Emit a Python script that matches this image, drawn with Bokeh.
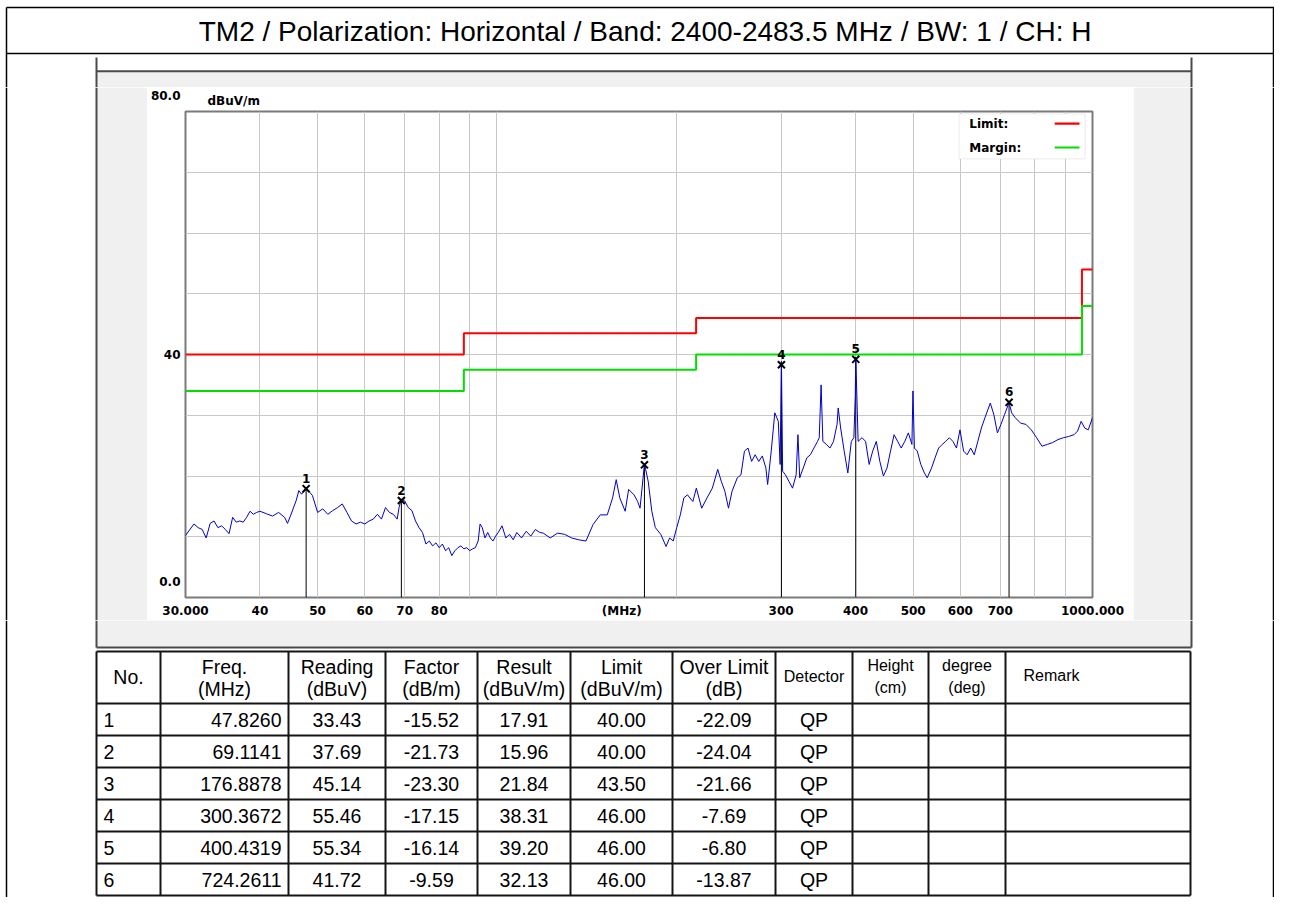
from bokeh.plotting import figure
from bokeh.models import Range1d, FixedTicker, Label, LabelSet, BoxAnnotation, ColumnDataSource
from bokeh.layouts import column, row
from bokeh.embed import file_html
from bokeh.resources import INLINE
from bokeh.core.properties import value

# ---------------- data ----------------
TITLE = "TM2 / Polarization: Horizontal / Band: 2400-2483.5 MHz  / BW: 1 / CH: H"

trace_freq = [30, 31, 31.5, 32, 32.5, 33, 33.5, 34, 34.5, 35,
              35.5, 36, 36.5, 37, 37.5, 38, 38.5, 39, 39.5, 40,
              41, 42, 43, 44, 44.5, 45, 46, 46.5, 47, 47.8,
              48.5, 49, 49.5, 50, 51, 52, 53, 54, 55, 56,
              57, 58, 59, 60, 61, 62, 63, 64, 65, 66,
              67, 68, 68.5, 69.1, 70, 71, 72, 73, 74, 75,
              76, 77, 78, 79, 80, 81, 82, 83, 84, 85,
              86, 87, 88, 89, 90, 91, 92, 93, 93.7, 94.5,
              95.5, 96.5, 97.5, 98.5, 99.5, 100.5, 102, 103.5, 105, 106.5,
              108, 110, 112, 114, 116, 118,
              119.6, 122.9, 126.4, 129.9, 133.5, 137.2, 141.1, 145.0, 149.1, 153.2,
              156.4, 158.6, 160.8, 164.2, 166.4, 169.9, 172.3, 173.9, 176.9, 179.5,
              182.0, 184.5, 188.4, 192.3, 195.0, 197.7, 200.4, 203.2, 206.0, 208.9,
              213.3, 216.2, 220.7, 225.3, 230.0, 234.8, 238.1, 241.4, 244.8, 248.2,
              253.3, 256.9, 260.4, 264.0, 267.7, 271.4, 275.2, 279.0, 282.9, 284.8,
              288.8, 292.8, 296.8, 298.9, 300.4, 301.8, 305.1, 309.3, 313.6, 318.0,
              320.2, 322.4, 326.8, 331.4, 336.0, 340.6, 345.4, 347.7, 350.2, 352.6,
              357.5, 362.4, 367.4, 372.5, 374.1, 377.7, 382.9, 388.3, 393.6, 397.5,
              399.6, 400.4, 404.1, 410.2, 415.9, 421.7, 427.5, 433.5, 439.5, 445.6,
              451.8, 458.0, 464.4, 470.8, 477.3, 484.0, 490.7, 497.5, 499.5, 502.3,
              507.9, 514.9, 522.1, 527.8, 536.6, 544.1, 551.6, 559.3, 567.0, 574.9,
              582.9, 591.0, 599.1, 607.5, 615.9, 624.4, 633.1, 641.9, 650.8, 659.8,
              673.6, 682.9, 692.4, 702.0, 711.7, 724.3, 731.6, 741.7, 757.2, 773.0,
              789.2, 805.7, 822.5, 839.7, 857.2, 875.1, 893.4, 912.0, 931.1, 944.0,
              957.1, 970.3, 983.8, 1000.0]
trace_level = [10.2, 12.1, 11.5, 11.2, 9.8, 12.2, 12.6, 11.5, 11.8, 11.2,
               10.5, 13.2, 12.4, 12.6, 12.4, 13.2, 14.2, 13.7, 14.0, 14.2,
               13.8, 13.4, 14.0, 13.2, 12.2, 13.4, 15.9, 17.6, 17.0, 18.1,
               17.3, 16.8, 15.4, 14.0, 14.6, 13.7, 14.3, 14.8, 15.4, 14.0,
               12.6, 12.1, 12.4, 12.1, 12.6, 12.9, 13.7, 12.9, 14.8, 14.0,
               13.7, 12.9, 14.8, 16.2, 15.9, 14.8, 14.3, 12.6, 11.5, 10.7,
               8.8, 9.3, 8.5, 9.0, 8.2, 8.8, 7.7, 8.2, 6.9, 7.7,
               8.2, 8.5, 8.0, 8.2, 7.7, 8.0, 8.2, 9.3, 12.1, 11.5,
               9.8, 10.7, 9.8, 9.3, 10.1, 10.7, 11.8, 9.8, 10.4, 9.5,
               10.7, 9.8, 10.9, 10.1, 11.2, 10.7,
               10.6, 9.8, 10.6, 10.4, 9.8, 9.5, 9.3, 12.0, 13.6, 13.6,
               16.4, 19.4, 16.4, 14.2, 17.8, 16.9, 15.8, 14.7, 22.0, 19.1,
               14.2, 11.5, 10.4, 8.4, 9.8, 9.3, 11.5, 13.6, 16.4, 16.9,
               15.8, 18.0, 14.7, 16.4, 18.0, 21.1, 19.1, 17.5, 14.7, 17.5,
               19.7, 20.2, 24.1, 24.6, 22.4, 23.5, 22.4, 23.3, 21.3, 18.6,
               24.1, 30.4, 29.0, 21.9, 38.9, 20.8, 20.2, 19.1, 18.0, 20.2,
               26.8, 19.7, 21.3, 23.0, 23.5, 24.6, 25.7, 26.3, 35.0, 25.7,
               25.2, 24.6, 25.7, 28.5, 31.2, 27.9, 24.1, 20.5, 25.7, 26.3,
               33.1, 39.6, 25.7, 26.3, 25.7, 21.9, 24.1, 25.7, 22.4, 20.0,
               21.3, 24.1, 26.8, 25.7, 24.6, 25.7, 27.1, 25.2, 34.0, 24.6,
               24.1, 21.9, 20.5, 19.7, 21.3, 23.0, 24.6, 25.2, 25.7, 26.3,
               25.7, 24.6, 27.6, 24.1, 23.5, 24.6, 23.5, 25.7, 27.9, 29.6,
               32.0, 30.1, 27.1, 28.5, 30.1, 32.1, 30.4, 29.6, 28.7, 28.5,
               27.6, 26.3, 24.9, 25.2, 25.5, 26.0, 26.3, 26.5, 26.8, 27.4,
               29.0, 27.9, 27.6, 29.6]

limit_freq = [30, 88, 216, 960, 1000]
limit_level = [40, 43.5, 46, 54, 54]
margin_level = [34, 37.5, 40, 48, 48]

mk_no = ["1", "2", "3", "4", "5", "6"]
mk_freq = [47.8260, 69.1141, 176.8878, 300.3672, 400.4319, 724.2611]
mk_reading = [33.43, 37.69, 45.14, 55.46, 55.34, 41.72]
mk_factor = [-15.52, -21.73, -23.30, -17.15, -16.14, -9.59]
mk_result = [17.91, 15.96, 21.84, 38.31, 39.20, 32.13]
mk_limit = [40.00, 40.00, 43.50, 46.00, 46.00, 46.00]
mk_over = [-22.09, -24.04, -21.66, -7.69, -6.80, -13.87]
mk_detector = ["QP", "QP", "QP", "QP", "QP", "QP"]

# x tick labels (162 MHz carries the unit caption, as in the original)
x_ticks = [30, 40, 50, 60, 70, 80, 162, 300, 400, 500, 600, 700, 1000]
x_tick_labels = ["30.000", "40", "50", "60", "70", "80", "(MHz)", "300", "400", "500",
                 "600", "700", "1000.000"]
x_grid = [40, 50, 60, 70, 80, 90, 100, 200, 300, 400, 500, 600, 700, 800, 900]
y_grid = [10, 20, 30, 40, 50, 60, 70]
y_ticks = [0, 40, 80]
y_tick_labels = ["0.0", "40", "80.0"]
y_unit = "dBuV/m"

headers = [["No."], ["Freq.", "(MHz)"], ["Reading", "(dBuV)"], ["Factor", "(dB/m)"],
           ["Result", "(dBuV/m)"], ["Limit", "(dBuV/m)"], ["Over Limit", "(dB)"],
           ["Detector"], ["Height", "(cm)"], ["degree", "(deg)"], ["Remark"]]

# ---------------- styles / layout ----------------
PANEL = "#f0f0f0"
PANEL_LINE = "#4a4a4a"
TABLE_LINE = "#151515"
SANS = "Liberation Sans"
BOLD = "DejaVu Sans"
W = 1274


def deco(x0, x1, y0, y1):
    p = figure(width=int(round(x1 - x0)), height=int(round(y1 - y0)),
               x_range=Range1d(x0, x1), y_range=Range1d(y1, y0),
               x_axis_location=None, y_axis_location=None,
               toolbar_location=None, output_backend="svg",
               min_border=0, outline_line_color=None, frame_align=False,
               background_fill_color="white", border_fill_color="white")
    p.grid.visible = False
    return p


OUT_L, OUT_R = 6, 1273

# header strip (y 0..87)
H = deco(0, W, 0, 87)
H.quad(left=96, right=1191, top=71.5, bottom=87, fill_color=PANEL, line_color=None)
H.segment(x0=[OUT_L, OUT_L], y0=[7, 53], x1=[W, W], y1=[7, 53], line_color="black", line_width=1.5)
H.segment(x0=[OUT_L, OUT_R], y0=[7, 7], x1=[OUT_L, OUT_R], y1=[87, 87], line_color="black", line_width=1.5)
H.segment(x0=[96, 1191, 96], y0=[57, 57, 70.7], x1=[96, 1191, 1191], y1=[87, 87, 70.7],
          line_color=PANEL_LINE, line_width=2)
H.text(x=[648.5], y=[31], text=[TITLE], text_font=value(SANS), text_font_size="28px",
       text_align="center", text_baseline="middle", text_color="black")

# side pieces of the grey panel (y 87..620)
L = deco(0, 147, 87, 620)
L.quad(left=96, right=147, top=87, bottom=620, fill_color=PANEL, line_color=None)
L.segment(x0=[96], y0=[87], x1=[96], y1=[620], line_color=PANEL_LINE, line_width=2)
L.segment(x0=[OUT_L], y0=[87], x1=[OUT_L], y1=[620], line_color="black", line_width=1.5)

R = deco(1133, W, 87, 620)
R.quad(left=1133, right=1191, top=87, bottom=620, fill_color=PANEL, line_color=None)
R.segment(x0=[1191], y0=[87], x1=[1191], y1=[620], line_color=PANEL_LINE, line_width=2)
R.segment(x0=[OUT_R], y0=[87], x1=[OUT_R], y1=[620], line_color="black", line_width=1.5)

# ---------------- chart ----------------
C = figure(width=986, height=533, x_axis_type="log",
           x_range=Range1d(30, 1000), y_range=Range1d(0, 80),
           toolbar_location=None, output_backend="svg", frame_align=False,
           min_border_left=36, min_border_right=41, min_border_top=24, min_border_bottom=23,
           background_fill_color="white", border_fill_color="white",
           outline_line_color="#7a7a7a", outline_line_width=2)

C.title.text = y_unit
C.title.align = "left"
C.title.offset = 22
C.title.standoff = 8
C.title.text_font = BOLD
C.title.text_font_style = "bold"
C.title.text_font_size = "12px"
C.title.text_color = "black"

C.xaxis.ticker = FixedTicker(ticks=x_ticks)
C.xaxis.major_label_overrides = dict(zip(x_ticks, x_tick_labels))
C.yaxis.ticker = FixedTicker(ticks=y_ticks)
# end labels sit above their grid line in the original: pad them with blank lines
C.yaxis.major_label_overrides = {t: (s if t == 40 else s + "\n\u00a0\n\u00a0")
                                 for t, s in zip(y_ticks, y_tick_labels)}
C.yaxis.major_label_text_line_height = 1.1
C.axis.axis_line_color = None
C.axis.major_tick_line_color = None
C.axis.minor_tick_line_color = None
C.axis.major_tick_out = 0
C.axis.major_tick_in = 0
C.axis.minor_tick_out = 0
C.axis.minor_tick_in = 0
C.axis.major_label_text_font = BOLD
C.axis.major_label_text_font_style = "bold"
C.axis.major_label_text_font_size = "12px"
C.axis.major_label_text_color = "black"
C.xaxis.major_label_standoff = 6
C.yaxis.major_label_standoff = 5

C.xgrid.ticker = FixedTicker(ticks=x_grid)
C.ygrid.ticker = FixedTicker(ticks=y_grid)
C.grid.grid_line_color = "#c8c8c8"
C.grid.grid_line_width = 1

C.step(limit_freq, limit_level, mode="after", line_color="#ff0000", line_width=2)
C.step(limit_freq, margin_level, mode="after", line_color="#00e000", line_width=2)
C.segment(x0=mk_freq, y0=[0] * len(mk_freq), x1=mk_freq, y1=mk_result, line_color="black", line_width=1)
C.line(trace_freq, trace_level, line_color="#0000cc", line_width=1)
C.scatter(mk_freq, mk_result, marker="x", size=10, line_color="black", line_width=2)

mk_src = ColumnDataSource(dict(x=mk_freq, y=mk_result, t=mk_no))
C.add_layout(LabelSet(x="x", y="y", text="t", source=mk_src, y_offset=6,
                      text_align="center", text_baseline="bottom",
                      text_font=value(BOLD), text_font_style="bold",
                      text_font_size="12px", text_color="black"))

# legend (label left, swatch right, as in the original)
C.add_layout(BoxAnnotation(left=597, right=972, top=79.6, bottom=72.2,
                           fill_color="white", fill_alpha=1, line_color="#c0c0c0", line_width=1))
for txt, yv, col in [("Limit:", 78.0, "#ff0000"), ("Margin:", 74.07, "#00e000")]:
    C.add_layout(Label(x=621, y=yv, text=txt, text_align="left", text_baseline="middle",
                       text_font=BOLD, text_font_style="bold", text_font_size="12px",
                       text_color="black"))
    C.add_layout(BoxAnnotation(left=864, right=951, top=yv + 0.17, bottom=yv - 0.17,
                               fill_color=col, fill_alpha=1, line_color=None))

# ---------------- bottom: panel end + table (y 620..897) ----------------
B = deco(0, W, 620, 897)
B.quad(left=96, right=1191, top=620, bottom=647, fill_color=PANEL, line_color=None)
B.segment(x0=[96, 1191, 96], y0=[620, 620, 647], x1=[96, 1191, 1191], y1=[647, 647, 647],
          line_color=PANEL_LINE, line_width=2)
B.segment(x0=[OUT_L, OUT_R], y0=[620, 620], x1=[OUT_L, OUT_R], y1=[897, 897], line_color="black", line_width=1.5)

col_edges = [96, 160, 288, 385, 477, 570, 672, 775, 852, 928, 1005, 1190]
row_edges = [651, 703, 735, 767, 799, 831, 863, 895]
B.segment(x0=col_edges, y0=[row_edges[0]] * len(col_edges), x1=col_edges,
          y1=[row_edges[-1]] * len(col_edges), line_color=TABLE_LINE, line_width=2)
B.segment(x0=[col_edges[0]] * len(row_edges), y0=row_edges, x1=[col_edges[-1]] * len(row_edges),
          y1=row_edges, line_color=TABLE_LINE, line_width=2)

centers = [(a + b) / 2 for a, b in zip(col_edges[:-1], col_edges[1:])]
small_cols = {7, 8, 9}
hx, hy, ht, hs = [], [], [], []
for i, lines in enumerate(headers):
    if i == 10:
        continue
    ys = [676] if len(lines) == 1 else [666, 688]
    if i in (8, 9):
        ys = [665, 687]
    for ln, yy in zip(lines, ys):
        hx.append(centers[i]); hy.append(yy); ht.append(ln)
        hs.append("16px" if i in small_cols else "19.5px")
B.text(x=hx, y=hy, text=ht, text_font=value(SANS), text_font_size=hs,
       text_align="center", text_baseline="middle", text_color="black")
B.text(x=[1023], y=[675], text=headers[10], text_font=value(SANS), text_font_size="16px",
       text_align="left", text_baseline="middle", text_color="black")

row_y = [(a + b) / 2 for a, b in zip(row_edges[1:-1], row_edges[2:])]
B.text(x=[col_edges[0] + 7] * len(mk_no), y=row_y, text=mk_no, text_font=value(SANS),
       text_font_size="19.5px", text_align="left", text_baseline="middle", text_color="black")
B.text(x=[col_edges[2] - 7] * len(mk_freq), y=row_y, text=[f"{v:.4f}" for v in mk_freq],
       text_font=value(SANS), text_font_size="19.5px", text_align="right", text_baseline="middle",
       text_color="black")
cx, cy, ct = [], [], []
for ci, vals in [(2, mk_reading), (3, mk_factor), (4, mk_result), (5, mk_limit), (6, mk_over)]:
    for v, yy in zip(vals, row_y):
        cx.append(centers[ci]); cy.append(yy); ct.append(f"{v:.2f}")
for v, yy in zip(mk_detector, row_y):
    cx.append(centers[7]); cy.append(yy); ct.append(v)
B.text(x=cx, y=cy, text=ct, text_font=value(SANS), text_font_size="19.5px",
       text_align="center", text_baseline="middle", text_color="black")

page = column(H, row(L, C, R), B)
open("out.html", "w").write(file_html(page, INLINE))
